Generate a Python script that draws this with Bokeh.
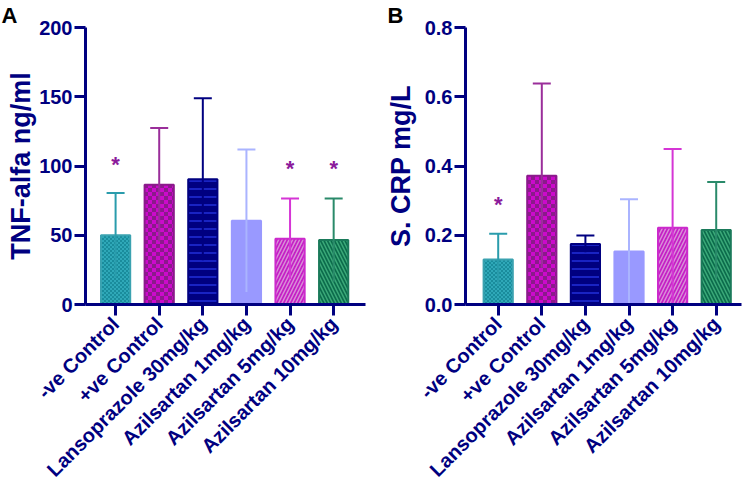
import zlib, struct, base64
from math import pi
from bokeh.plotting import figure
from bokeh.layouts import row
from bokeh.models import (ColumnDataSource, Range1d, FixedTicker,
                          PrintfTickFormatter, ImageURLTexture)
from bokeh.core.properties import value
from bokeh.embed import file_html
from bokeh.resources import INLINE

# ---------------- data ----------------
categories = ["-ve Control", "+ve Control", "Lansoprazole 30mg/kg",
              "Azilsartan 1mg/kg", "Azilsartan 5mg/kg", "Azilsartan 10mg/kg"]

tnf_mean = [50.0, 86.5, 90.5, 60.5, 47.5, 46.5]
tnf_sd = [30.5, 41.0, 58.5, 51.5, 29.0, 30.0]
tnf_star_cats = ["-ve Control", "Azilsartan 5mg/kg", "Azilsartan 10mg/kg"]
tnf_star_y = [101, 98, 98]
tnf_ticks = [0, 50, 100, 150, 200]

crp_mean = [0.130, 0.372, 0.175, 0.153, 0.222, 0.215]
crp_sd = [0.074, 0.266, 0.024, 0.151, 0.227, 0.139]
crp_star_cats = ["-ve Control"]
crp_star_y = [0.29]
crp_ticks = [0.0, 0.2, 0.4, 0.6, 0.8]

# ---------------- style ----------------
NAVY = "#000080"
FONT = "Liberation Sans"
fill_colors = ["#1a8c9c", "#8b1a8b", "#000080", "#9999ff", "#c41fc4", "#0b6b4b"]
edge_colors = ["#3aa2b0", "#8b1a8b", "#000080", "#9999ff", "#cc2acc", "#1a7a5a"]
err_colors = ["#2a9cac", "#9a2e9a", "#000080", "#aab4ff", "#d535d5", "#2a8a6a"]
hatch_patterns = ["chk1", "chk2", "horizontal_line", "blank",
                  "right_diagonal_line", "left_diagonal_line"]
hatch_colors = ["#2aa5b5", "#cc00cc", "#2a3af0", "#9999ff", "#d98cd9", "#3aa878"]
hatch_scales = [4, 8, 8, 8, 7, 7]
hatch_weights = [1, 1, 1.2, 1, 1.5, 1.5]


def _rgb(h):
    h = h.lstrip("#")
    return tuple(int(h[i:i + 2], 16) for i in (0, 2, 4))


def png_uri(rows):
    h = len(rows)
    w = len(rows[0])
    raw = b"".join(b"\x00" + bytes([c for px in r for c in px]) for r in rows)

    def chunk(t, d):
        return struct.pack(">I", len(d)) + t + d + struct.pack(">I", zlib.crc32(t + d) & 0xffffffff)
    png = (b"\x89PNG\r\n\x1a\n" + chunk(b"IHDR", struct.pack(">IIBBBBB", w, h, 8, 2, 0, 0, 0))
           + chunk(b"IDAT", zlib.compress(raw)) + chunk(b"IEND", b""))
    return "data:image/png;base64," + base64.b64encode(png).decode()


def checker(c1, c2, cell):
    a, b = _rgb(c1), _rgb(c2)
    n = cell * 2
    return png_uri([[a if ((x // cell) + (y // cell)) % 2 == 0 else b for x in range(n)]
                    for y in range(n)])


def textures():
    return {"chk1": ImageURLTexture(url=checker("#1a8c9c", "#2fa8b8", 2)),
            "chk2": ImageURLTexture(url=checker("#8b1a8b", "#cc0acc", 4))}


def panel(means, sds, ticks, fmt, ylabel, star_cats, star_y, tag, tag_offset,
          x_start, x_end, border_left, border_right, width, title_standoff):
    xs = list(range(len(categories)))
    upper = [m + s for m, s in zip(means, sds)]
    lower = [max(m - s, 0) for m, s in zip(means, sds)]
    src = ColumnDataSource(dict(x=xs, mean=means, upper=upper, lower=lower,
                                fill=fill_colors, edge=edge_colors, err=err_colors,
                                hatch=hatch_patterns, hcol=hatch_colors,
                                hscale=hatch_scales, hweight=hatch_weights))
    star_x = [categories.index(c) for c in star_cats]
    p = figure(x_range=Range1d(x_start, x_end),
               y_range=Range1d(ticks[0], ticks[-1]),
               width=width, height=493, output_backend="svg", toolbar_location=None,
               min_border_left=border_left, min_border_right=border_right,
               min_border_top=26, min_border_bottom=189, title=tag)
    p.outline_line_color = None
    p.grid.visible = False
    p.background_fill_color = "white"

    p.title.align = "left"
    p.title.offset = tag_offset
    p.title.standoff = 0
    p.title.text_font = FONT
    p.title.text_font_style = "bold"
    p.title.text_font_size = "22px"
    p.title.text_line_height = 0.8
    p.title.text_color = "black"

    p.vbar(x="x", top="mean", width=0.67, source=src, fill_color="fill",
           line_color="edge", line_width=2, hatch_pattern="hatch", hatch_color="hcol",
           hatch_scale="hscale", hatch_weight="hweight", hatch_extra=textures())
    p.segment(x0="x", y0="lower", x1="x", y1="upper", line_color="err",
              line_width=2, source=src)
    p.scatter(x="x", y="upper", marker="dash", size=18, line_color="err",
              line_width=2, source=src)
    p.text(x=star_x, y=star_y, text=["*"] * len(star_cats),
           text_font=value(FONT), text_font_style="bold", text_font_size="22px",
           text_align="center", text_baseline="middle", text_color="#8b1a9b")

    for ax in (p.xaxis[0], p.yaxis[0]):
        ax.axis_line_color = NAVY
        ax.axis_line_width = 3
        ax.major_tick_line_color = NAVY
        ax.major_tick_line_width = 3
        ax.major_tick_out = 11
        ax.major_tick_in = 0
        ax.minor_tick_line_color = None
        ax.major_label_text_font = FONT
        ax.major_label_text_font_style = "bold"
        ax.major_label_text_color = NAVY

    p.yaxis.major_label_standoff = 2
    p.yaxis.ticker = FixedTicker(ticks=ticks)
    p.yaxis.formatter = PrintfTickFormatter(format=fmt)
    p.yaxis.major_label_text_font_size = "20px"
    p.yaxis.axis_label = ylabel
    p.yaxis.axis_label_text_font = FONT
    p.yaxis.axis_label_text_font_style = "bold"
    p.yaxis.axis_label_text_font_size = "27px"
    p.yaxis.axis_label_text_color = NAVY
    p.yaxis.axis_label_standoff = title_standoff

    p.xaxis.ticker = FixedTicker(ticks=xs)
    p.xaxis.major_label_overrides = {i: c for i, c in zip(xs, categories)}
    p.xaxis.major_label_orientation = pi / 4
    p.xaxis.major_label_text_font_size = "20px"
    p.xaxis.major_label_standoff = 5
    return p


pA = panel(tnf_mean, tnf_sd, tnf_ticks, "%d", "TNF-alfa ng/ml",
           tnf_star_cats, tnf_star_y, "A", -84, -0.69, 5.73, 85, 6, 371, 0)
pB = panel(crp_mean, crp_sd, crp_ticks, "%.1f", "S. CRP mg/L",
           crp_star_cats, crp_star_y, "B", -78, -0.75, 5.58, 94, 1, 371, 6)

layout = row(pA, pB)
open("out.html", "w").write(file_html(layout, INLINE))
